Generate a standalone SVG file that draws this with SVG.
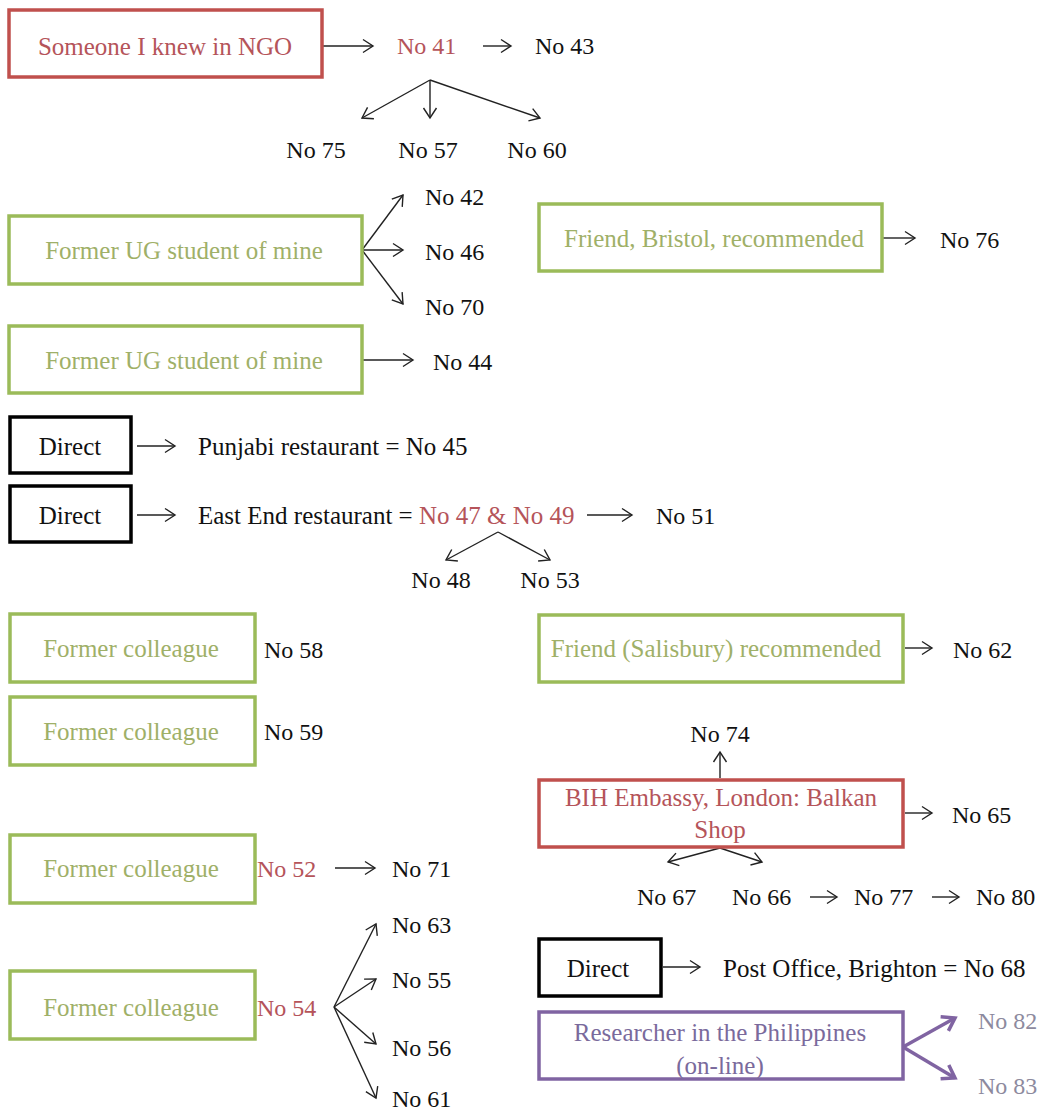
<svg xmlns="http://www.w3.org/2000/svg" width="1043" height="1113" viewBox="0 0 1043 1113">
<style>
text{font-family:'Liberation Serif','DejaVu Serif',serif;font-size:24px;fill:#111;}
.c{text-anchor:middle;}
.b{font-size:25px;}
.g{fill:#9FB068;}
.r{fill:#B5545A;}
.p{fill:#7A6A9C;}
.q{fill:#8D8A9E;}
.gb{fill:#fff;stroke:#9BBB59;stroke-width:3.5;}
.rb{fill:#fff;stroke:#C0504D;stroke-width:3.5;}
.kb{fill:#fff;stroke:#000;stroke-width:3.5;}
.pb{fill:#fff;stroke:#8064A2;stroke-width:3.5;}
.a{stroke:#222;stroke-width:1.4;fill:none;marker-end:url(#ah);}
.ap{stroke:#8064A2;stroke-width:3.5;fill:none;marker-end:url(#ahp);}
</style>
<defs>
<marker id="ah" markerUnits="userSpaceOnUse" markerWidth="16" markerHeight="16" refX="12" refY="8" orient="auto" viewBox="0 0 16 16">
<path d="M2,1.5 L12,8 L2,14.5" fill="none" stroke="#222" stroke-width="1.4"/>
</marker>
<marker id="ahp" markerUnits="userSpaceOnUse" markerWidth="20" markerHeight="20" refX="15" refY="10" orient="auto" viewBox="0 0 20 20">
<path d="M3,2 L15,10 L3,18" fill="none" stroke="#8064A2" stroke-width="3.5"/>
</marker>
</defs>
<rect width="1043" height="1113" fill="#fff"/>

<g id="connectors">
<line class="a" x1="322" y1="46" x2="373" y2="46"/>
<line class="a" x1="483" y1="46" x2="511" y2="46"/>
<line class="a" x1="430" y1="80" x2="362" y2="118"/>
<line class="a" x1="430" y1="80" x2="430" y2="118"/>
<line class="a" x1="430" y1="80" x2="540" y2="118"/>
<line class="a" x1="362" y1="250" x2="403" y2="195"/>
<line class="a" x1="362" y1="250" x2="403" y2="250"/>
<line class="a" x1="362" y1="250" x2="403" y2="304"/>
<line class="a" x1="883" y1="238" x2="915" y2="238"/>
<line class="a" x1="363" y1="360" x2="413" y2="360"/>
<line class="a" x1="137" y1="446" x2="175" y2="446"/>
<line class="a" x1="137" y1="515" x2="175" y2="515"/>
<line class="a" x1="587" y1="515" x2="632" y2="515"/>
<line class="a" x1="498" y1="532" x2="446" y2="560"/>
<line class="a" x1="498" y1="532" x2="550" y2="560"/>
<line class="a" x1="335" y1="868" x2="375" y2="868"/>
<line class="a" x1="334" y1="1007" x2="376" y2="924"/>
<line class="a" x1="334" y1="1007" x2="376" y2="979"/>
<line class="a" x1="334" y1="1007" x2="376" y2="1044"/>
<line class="a" x1="334" y1="1007" x2="376" y2="1098"/>
<line class="a" x1="905" y1="648" x2="932" y2="648"/>
<line class="a" x1="720" y1="778" x2="720" y2="752"/>
<line class="a" x1="905" y1="813" x2="932" y2="813"/>
<line class="a" x1="720" y1="848" x2="668" y2="862"/>
<line class="a" x1="720" y1="848" x2="762" y2="862"/>
<line class="a" x1="810" y1="897" x2="837" y2="897"/>
<line class="a" x1="932" y1="897" x2="959" y2="897"/>
<line class="a" x1="663" y1="967" x2="700" y2="967"/>
<line class="ap" x1="903" y1="1047" x2="955" y2="1018"/>
<line class="ap" x1="903" y1="1047" x2="955" y2="1078"/>
</g>

<g id="n-ngo"><rect class="rb" x="9" y="10" width="313" height="67"/><text class="c r b" x="165" y="55">Someone I knew in NGO</text></g>
<g id="n41"><text class="r" x="397" y="54">No 41</text></g>
<g id="n43"><text x="535" y="54">No 43</text></g>
<g id="n75"><text class="c" x="316" y="158">No 75</text></g>
<g id="n57"><text class="c" x="428" y="158">No 57</text></g>
<g id="n60"><text class="c" x="537" y="158">No 60</text></g>

<g id="n-ug1"><rect class="gb" x="9" y="216" width="353" height="68"/><text class="c g b" x="184" y="259">Former UG student of mine</text></g>
<g id="n42"><text x="425" y="205">No 42</text></g>
<g id="n46"><text x="425" y="260">No 46</text></g>
<g id="n70"><text x="425" y="315">No 70</text></g>

<g id="n-bristol"><rect class="gb" x="539" y="204" width="343" height="67"/><text class="c g b" x="714" y="247">Friend, Bristol, recommended</text></g>
<g id="n76"><text x="940" y="248">No 76</text></g>

<g id="n-ug2"><rect class="gb" x="9" y="326" width="353" height="67"/><text class="c g b" x="184" y="369">Former UG student of mine</text></g>
<g id="n44"><text x="433" y="370">No 44</text></g>

<g id="n-direct1"><rect class="kb" x="10" y="417" width="121" height="56"/><text class="c b" x="70" y="455">Direct</text></g>
<g id="n45"><text class="b" x="198" y="455">Punjabi restaurant = No 45</text></g>

<g id="n-direct2"><rect class="kb" x="10" y="486" width="121" height="56"/><text class="c b" x="70" y="524">Direct</text></g>
<g id="n47"><text class="b" x="198" y="524">East End restaurant = <tspan class="r">No 47 &amp; No 49</tspan></text></g>
<g id="n51"><text x="656" y="524">No 51</text></g>
<g id="n48"><text class="c" x="441" y="588">No 48</text></g>
<g id="n53"><text class="c" x="550" y="588">No 53</text></g>

<g id="n-col1"><rect class="gb" x="10" y="614" width="245" height="68"/><text class="c g b" x="131" y="657">Former colleague</text></g>
<g id="n58"><text x="264" y="658">No 58</text></g>
<g id="n-col2"><rect class="gb" x="10" y="697" width="245" height="68"/><text class="c g b" x="131" y="740">Former colleague</text></g>
<g id="n59"><text x="264" y="740">No 59</text></g>
<g id="n-col3"><rect class="gb" x="10" y="835" width="245" height="68"/><text class="c g b" x="131" y="877">Former colleague</text></g>
<g id="n52"><text class="r" x="257" y="877">No 52</text></g>
<g id="n71"><text x="392" y="877">No 71</text></g>
<g id="n-col4"><rect class="gb" x="10" y="971" width="245" height="68"/><text class="c g b" x="131" y="1016">Former colleague</text></g>
<g id="n54"><text class="r" x="257" y="1016">No 54</text></g>
<g id="n63"><text x="392" y="933">No 63</text></g>
<g id="n55"><text x="392" y="988">No 55</text></g>
<g id="n56"><text x="392" y="1056">No 56</text></g>
<g id="n61"><text x="392" y="1107">No 61</text></g>

<g id="n-salisbury"><rect class="gb" x="539" y="615" width="364" height="67"/><text class="c g b" x="716" y="657">Friend (Salisbury) recommended</text></g>
<g id="n62"><text x="953" y="658">No 62</text></g>

<g id="n74"><text class="c" x="720" y="742">No 74</text></g>
<g id="n-bih"><rect class="rb" x="539" y="780" width="364" height="67"/><text class="c r b" x="721" y="806">BIH Embassy, London: Balkan</text><text class="c r b" x="720" y="838">Shop</text></g>
<g id="n65"><text x="952" y="823">No 65</text></g>
<g id="n67"><text x="637" y="905">No 67</text></g>
<g id="n66"><text x="732" y="905">No 66</text></g>
<g id="n77"><text x="854" y="905">No 77</text></g>
<g id="n80"><text x="976" y="905">No 80</text></g>

<g id="n-direct3"><rect class="kb" x="539" y="939" width="122" height="57"/><text class="c b" x="598" y="977">Direct</text></g>
<g id="n68"><text class="b" x="723" y="977">Post Office, Brighton = No 68</text></g>

<g id="n-phil"><rect class="pb" x="539" y="1012" width="364" height="67"/><text class="c p b" x="720" y="1041">Researcher in the Philippines</text><text class="c p b" x="720" y="1074">(on-line)</text></g>
<g id="n82"><text class="q" x="978" y="1029">No 82</text></g>
<g id="n83"><text class="q" x="978" y="1094">No 83</text></g>
</svg>
